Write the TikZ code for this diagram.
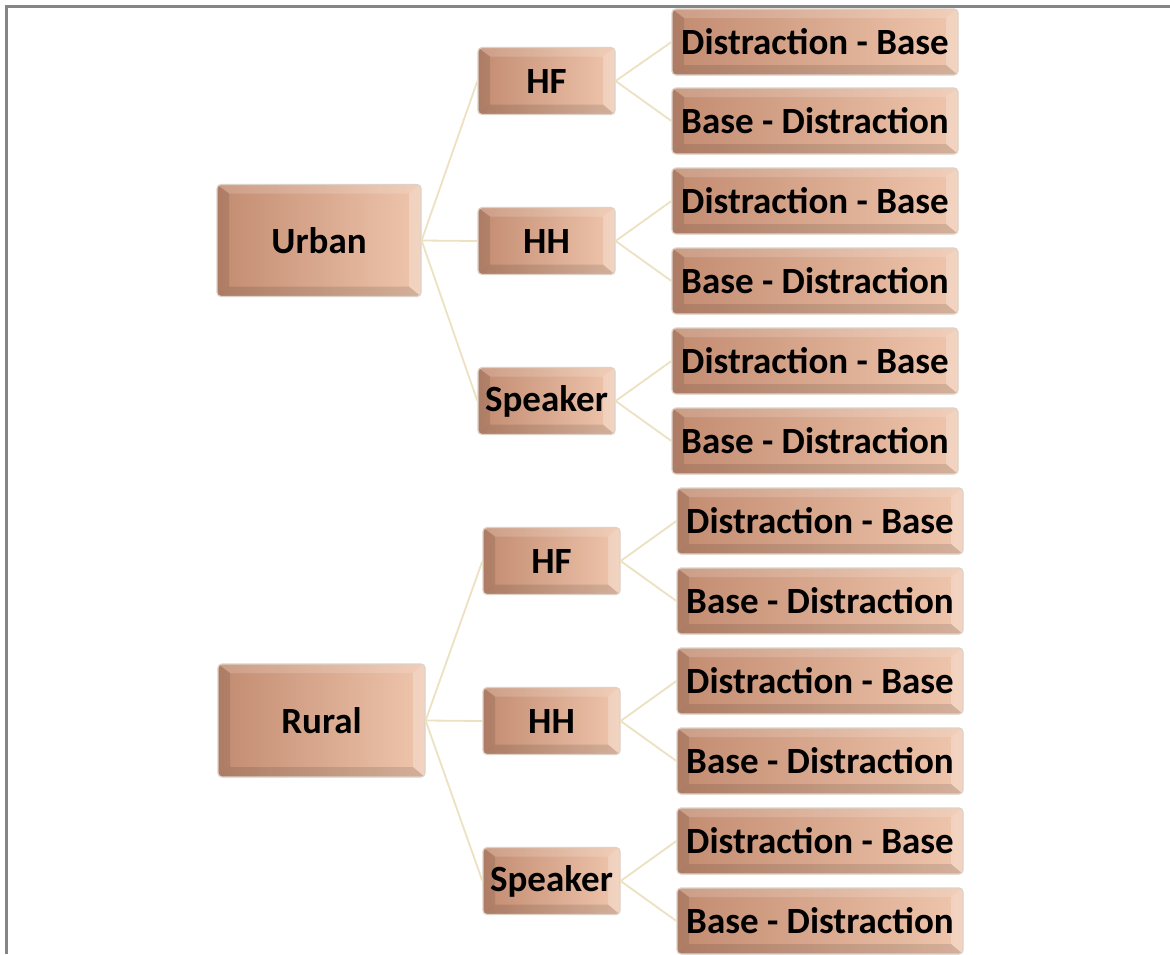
\documentclass[tikz,border=0pt]{standalone}
\usepackage{fontspec}
\setmainfont{Carlito}
\usetikzlibrary{calc}
\definecolor{conn}{HTML}{ECE1C0}
\definecolor{boxL}{HTML}{C28B70}
\definecolor{boxM}{HTML}{D9A78A}
\definecolor{boxR}{HTML}{EFC6AD}
\definecolor{rim}{HTML}{DCD2CA}
\definecolor{frameC}{HTML}{858585}
\tikzset{
  bevelbox/.style={rectangle, rounded corners=4pt, inner sep=0pt, draw=rim, line width=1.2pt,
    left color=boxL, middle color=boxM, right color=boxR, text=black,
    font=\fontsize{37}{40}\selectfont\bfseries,
    path picture={
      \path (path picture bounding box.north west) coordinate (bvA)
            (path picture bounding box.north east) coordinate (bvB)
            (path picture bounding box.south east) coordinate (bvC)
            (path picture bounding box.south west) coordinate (bvD);
      \fill[white,opacity=0.16,sharp corners] (bvA) -- (bvB) -- ($(bvB)+(-12pt,-9pt)$) -- ($(bvA)+(12pt,-9pt)$) -- cycle;
      \fill[black,opacity=0.10,sharp corners] (bvA) -- ($(bvA)+(12pt,-9pt)$) -- ($(bvD)+(12pt,10pt)$) -- (bvD) -- cycle;
      \fill[white,opacity=0.25,sharp corners] (bvB) -- (bvC) -- ($(bvC)+(-12pt,10pt)$) -- ($(bvB)+(-12pt,-9pt)$) -- cycle;
      \fill[black,opacity=0.11,sharp corners] (bvD) -- ($(bvD)+(12pt,10pt)$) -- ($(bvC)+(-12pt,10pt)$) -- (bvC) -- cycle;
    }},
  rootbox/.style={bevelbox, minimum width=204pt, minimum height=112pt},
  midbox/.style={bevelbox, minimum width=137pt, minimum height=67pt},
  leafbox/.style={bevelbox, minimum width=286pt, minimum height=66pt},
  link/.style={draw=conn, line width=1.8pt},
}
\begin{document}
\begin{tikzpicture}[x=1pt,y=-1pt]
\useasboundingbox (0,0) rectangle (1170,954);
\fill[white] (0,0) rectangle (1170,954);
\draw[frameC, line width=3pt] (6,954) -- (6,6) -- (1170,6);

% Urban group
\node[rootbox] (urban) at (319,240.5) {Urban};
\node[midbox] (uhf) at (546.5,81) {HF};
\node[midbox] (uhh) at (546.5,241) {HH};
\node[midbox] (usp) at (546.5,401) {Speaker};
\node[leafbox] (u1) at (815,42) {Distraction - Base};
\node[leafbox] (u2) at (815,121) {Base - Distraction};
\node[leafbox] (u3) at (815,201) {Distraction - Base};
\node[leafbox] (u4) at (815,281) {Base - Distraction};
\node[leafbox] (u5) at (815,361) {Distraction - Base};
\node[leafbox] (u6) at (815,441) {Base - Distraction};

% Rural group
\node[rootbox, minimum width=207pt, minimum height=113pt] (rural) at (321.5,720.5) {Rural};
\node[midbox] (rhf) at (551.5,561) {HF};
\node[midbox] (rhh) at (551.5,721) {HH};
\node[midbox] (rsp) at (551.5,881) {Speaker};
\node[leafbox] (r1) at (820,521) {Distraction - Base};
\node[leafbox] (r2) at (820,601) {Base - Distraction};
\node[leafbox] (r3) at (820,681) {Distraction - Base};
\node[leafbox] (r4) at (820,761) {Base - Distraction};
\node[leafbox] (r5) at (820,841) {Distraction - Base};
\node[leafbox] (r6) at (820,921) {Base - Distraction};

% connectors
\path[link] (urban.east) -- (uhf.west) (urban.east) -- (uhh.west) (urban.east) -- (usp.west);
\path[link] (uhf.east) -- (u1.west) (uhf.east) -- (u2.west);
\path[link] (uhh.east) -- (u3.west) (uhh.east) -- (u4.west);
\path[link] (usp.east) -- (u5.west) (usp.east) -- (u6.west);
\path[link] (rural.east) -- (rhf.west) (rural.east) -- (rhh.west) (rural.east) -- (rsp.west);
\path[link] (rhf.east) -- (r1.west) (rhf.east) -- (r2.west);
\path[link] (rhh.east) -- (r3.west) (rhh.east) -- (r4.west);
\path[link] (rsp.east) -- (r5.west) (rsp.east) -- (r6.west);
\end{tikzpicture}
\end{document}
